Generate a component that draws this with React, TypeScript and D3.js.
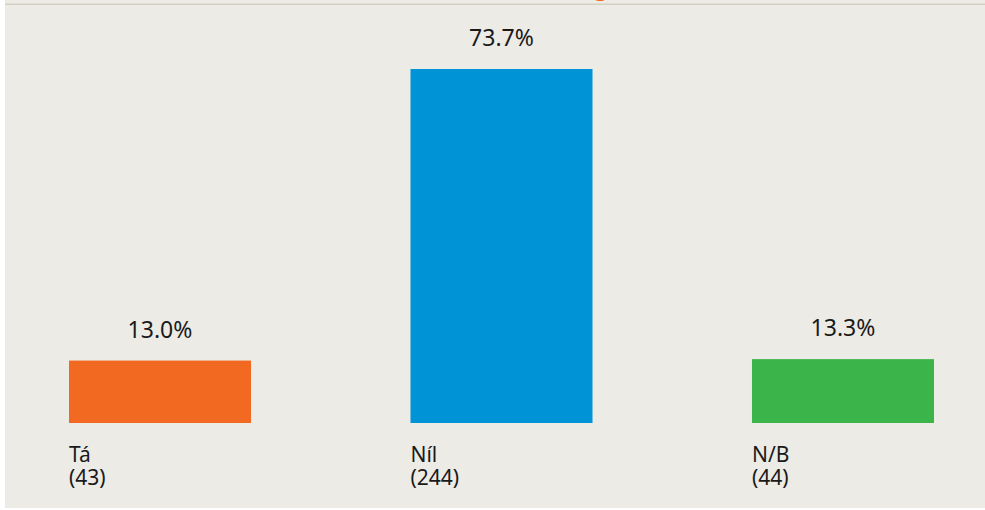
import React from "react";
import * as d3 from "d3";

const categories = ["Tá", "Níl", "N/B"];
const counts = [43, 244, 44];
const percents = [13.0, 73.7, 13.3];
const colors = ["#f26a22", "#0094d7", "#3bb54a"];

const W = 985;
const H = 510;
const FONT = "'Noto Sans', sans-serif";

export default function App() {
  const x = d3
    .scaleBand<string>()
    .domain(categories)
    .range([69, 934])
    .paddingInner(0.467)
    .paddingOuter(0);
  const y = d3.scaleLinear().domain([0, 73.7]).range([423, 69]);
  const fmt = d3.format(".1f");

  return (
    <svg
      width={W}
      height={H}
      style={{ position: "absolute", left: 0, top: 0, display: "block" }}
    >
      <rect x={0} y={0} width={W} height={H} fill="#ffffff" />
      <rect x={5} y={0} width={W - 5} height={H - 2} fill="#edebe6" />
      <rect x={5} y={3.5} width={W - 5} height={1.5} fill="#d3cfc2" />
      <text
        x={601}
        y={-4}
        textAnchor="middle"
        fontFamily={FONT}
        fontWeight="bold"
        fontSize={22}
        fill="#f26a22"
      >
        g
      </text>
      {categories.map((c, i) => {
        const bx = x(c)!;
        const bw = x.bandwidth();
        const top = y(percents[i]);
        return (
          <g key={c}>
            <rect
              x={bx}
              y={top}
              width={bw}
              height={y(0) - top}
              fill={colors[i]}
            />
            <text
              x={bx + bw / 2}
              y={top - 23}
              textAnchor="middle"
              fontFamily={FONT}
              fontSize={23}
              fill="#1a1a1a"
            >
              {fmt(percents[i])}%
            </text>
            <text
              x={bx}
              y={462}
              fontFamily={FONT}
              fontSize={21}
              fill="#1a1a1a"
            >
              {c}
            </text>
            <text
              x={bx}
              y={485}
              fontFamily={FONT}
              fontSize={21}
              fill="#1a1a1a"
            >
              ({counts[i]})
            </text>
          </g>
        );
      })}
    </svg>
  );
}
